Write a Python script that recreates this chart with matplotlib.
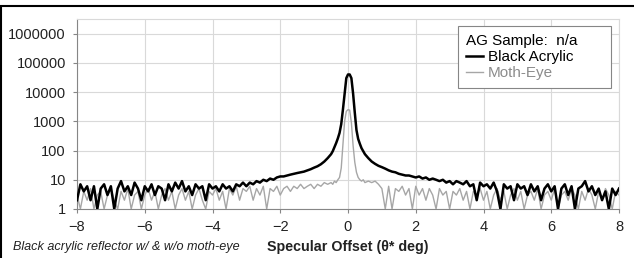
import numpy as np
import matplotlib
matplotlib.use('Agg')
import matplotlib.pyplot as plt
from matplotlib.patches import Rectangle

plt.rcParams['font.family'] = ['Liberation Sans', 'DejaVu Sans']

# measurement grid: coarse in the tails, fine around the specular peak
x_left = np.round(np.arange(-8.0, -0.55, 0.1), 2)
x_mid = np.round(np.arange(-0.5, 0.51, 0.05), 2)
x_right = np.round(np.arange(0.6, 8.05, 0.1), 2)

# Black Acrylic
black_left = [2, 7, 4, 6, 2, 6, 1, 5, 7, 3, 6, 1, 5, 9, 4, 6, 3, 8, 5, 2,
              6, 4, 7, 3, 6, 5, 2, 7, 4, 8, 5, 9, 4, 6, 3, 7, 5, 6, 2, 7,
              5, 6, 4, 7, 5, 6, 4, 7, 6, 8, 6, 8, 7, 9, 8, 10, 9, 11, 10, 12,
              13, 13, 14, 15, 16, 17, 18, 19, 21, 23, 26, 29, 34, 42, 55]
black_mid = [75, 95, 130, 180, 260, 400, 800, 2500, 9000, 30000, 40000,
             40000, 30000, 9000, 2000, 500, 250, 170, 120, 95, 75]
black_right = [55, 42, 35, 30, 27, 24, 21, 19, 18, 16, 15, 14, 14, 13, 12, 13, 11, 12, 10, 11,
               10, 9, 10, 8, 9, 7, 9, 8, 7, 9, 6, 7, 2, 8, 6, 7, 5, 8, 4, 1,
               7, 5, 6, 2, 7, 5, 6, 3, 7, 4, 6, 2, 5, 7, 4, 6, 1, 5, 7, 3,
               6, 1, 5, 6, 9, 4, 6, 3, 5, 2, 4, 1, 5, 3, 5]

# Moth-Eye
moth_left = [3, 1, 4, 2, 5, 1, 3, 4, 1, 3, 5, 2, 1, 4, 2, 5, 1, 3, 4, 1,
             3, 5, 2, 4, 1, 3, 5, 2, 4, 1, 3, 5, 2, 4, 1, 3, 5, 2, 1, 4,
             3, 5, 2, 4, 1, 5, 3, 6, 2, 5, 4, 6, 2, 5, 3, 6, 1, 5, 4, 6,
             3, 5, 6, 4, 6, 5, 7, 5, 6, 7, 5, 7, 6, 8, 7]
moth_mid = [8, 7, 9, 8, 10, 12, 25, 150, 1000, 2200, 2500,
            2400, 900, 150, 40, 18, 12, 10, 9, 10, 8]
moth_right = [9, 8, 9, 7, 5, 1, 6, 1, 5, 4, 6, 3, 5, 1, 6, 3, 5, 2, 5, 3,
              1, 5, 3, 4, 1, 4, 3, 5, 2, 4, 1, 4, 3, 5, 2, 4, 1, 3, 5, 2,
              4, 1, 3, 5, 2, 4, 1, 3, 4, 2, 5, 1, 3, 4, 2, 5, 1, 3, 4, 2,
              5, 3, 1, 4, 2, 5, 3, 1, 4, 2, 5, 3, 1, 4, 3]

x = np.concatenate([x_left, x_mid, x_right])
black = np.array(black_left + black_mid + black_right, dtype=float)
moth = np.array(moth_left + moth_mid + moth_right, dtype=float)

fig = plt.figure(figsize=(6.34, 2.58), dpi=100)
ax = fig.add_axes([77 / 634, 1 - 209 / 258, 542 / 634, 190 / 258])

ax.plot(x, moth, color='#a6a6a6', lw=1.0, label='Moth-Eye', zorder=3)
ax.plot(x, black, color='black', lw=1.8, label='Black Acrylic', zorder=4)

ax.set_yscale('log')
ax.set_ylim(1, 10 ** 6.5)
ax.set_xlim(-8, 8)
ax.set_yticks([1, 10, 100, 1000, 10000, 100000, 1000000])
ax.set_yticklabels(['1', '10', '100', '1000', '10000', '100000', '1000000'])
ax.yaxis.set_minor_locator(matplotlib.ticker.NullLocator())
ax.set_xticks(range(-8, 9, 2))
ax.grid(True, color='#d9d9d9', lw=0.8)
ax.set_axisbelow(True)
for side in ['top', 'right']:
    ax.spines[side].set_color('#d9d9d9')
for side in ['left', 'bottom']:
    ax.spines[side].set_color('#868686')
ax.tick_params(axis='both', length=3, color='#868686', labelsize=10.5,
               labelcolor='#222222')
ax.tick_params(axis='y', pad=5)
ax.tick_params(axis='x', pad=5)

handles, labels = ax.get_legend_handles_labels()
leg = ax.legend(handles[::-1], labels[::-1], title='AG Sample:  n/a',
                loc='upper left',
                bbox_to_anchor=(458 / 634, 1 - 88 / 258, 153 / 634, 62 / 258),
                bbox_transform=fig.transFigure, borderaxespad=0, mode='expand',
                fancybox=False, edgecolor='#868686', framealpha=1,
                fontsize=11, title_fontsize=11, handlelength=1.1,
                handletextpad=0.3, labelspacing=0.12, alignment='left',
                borderpad=0.55)
leg.get_frame().set_linewidth(0.8)
leg.get_texts()[1].set_color('#8c8c8c')

fig.text(348 / 634, 1 - 247 / 258, 'Specular Offset (θ* deg)', ha='center',
         va='center', fontsize=10.3, fontweight='bold', color='#222222')
fig.text(13 / 634, 1 - 247 / 258, 'Black acrylic reflector w/ & w/o moth-eye',
         ha='left', va='center', fontsize=9.1, style='italic', color='#222222')

fig.patches.append(Rectangle((1 / 634, -0.2), 1.2, 1.2 - 6 / 258,
                             transform=fig.transFigure, fill=False,
                             edgecolor='black', lw=1.5))

fig.savefig('out.png', dpi=100)
